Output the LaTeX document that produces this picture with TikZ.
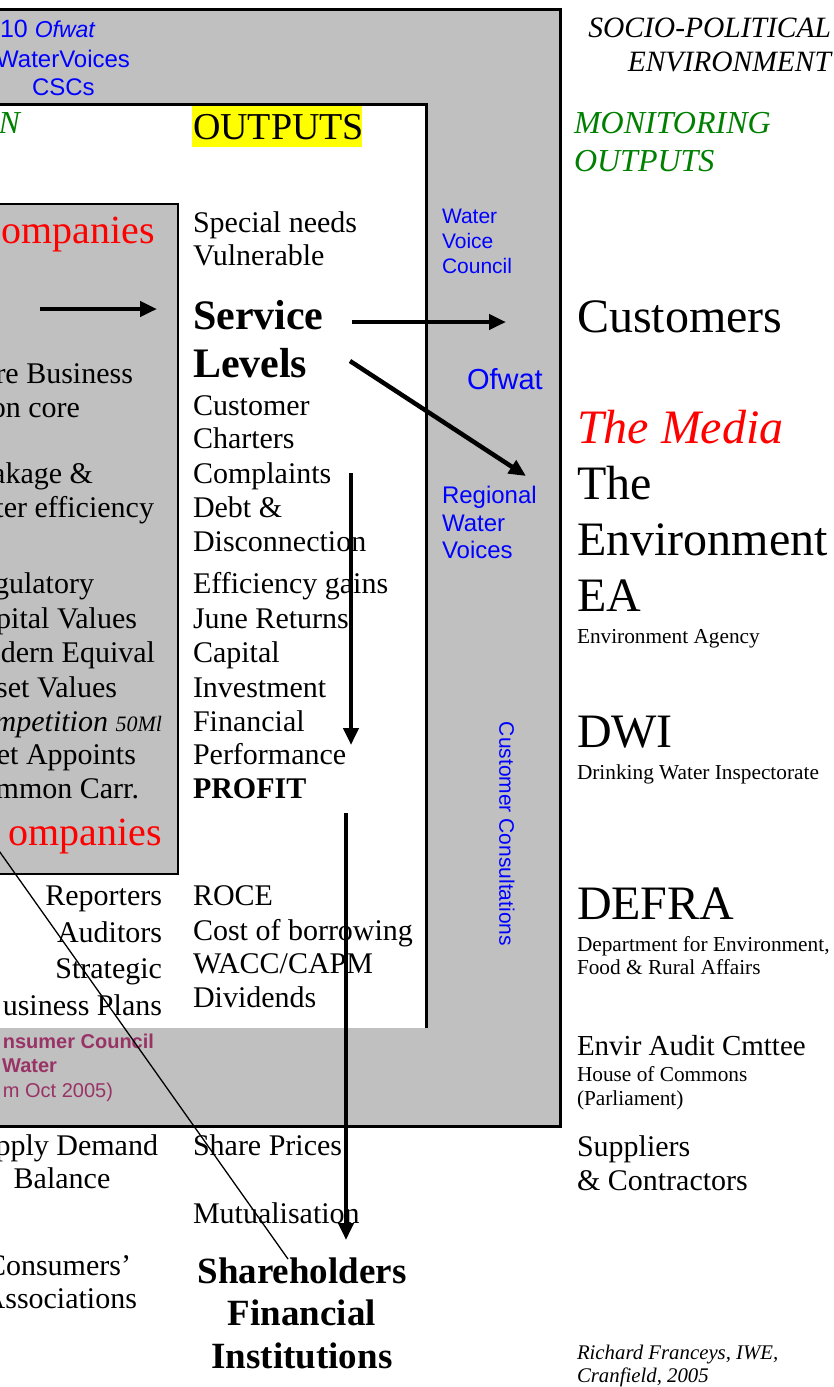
\documentclass[tikz,border=0pt]{standalone}
\usepackage{fontspec}
\setmainfont{Liberation Serif}
\setsansfont{Liberation Sans}
\usetikzlibrary{arrows.meta}
\definecolor{panel}{RGB}{192,192,192}
\definecolor{voice}{RGB}{0,0,255}
\definecolor{watch}{RGB}{0,128,0}
\definecolor{council}{RGB}{153,51,102}
\definecolor{hilite}{RGB}{255,255,0}

\begin{document}
\begin{tikzpicture}[x=1pt,y=-1pt,
  every node/.style={inner sep=0pt,outer sep=0pt},
  lw/.style={anchor=base west},
  le/.style={anchor=base east},
  txt/.style={font=\fontsize{30}{34}\selectfont},
  big/.style={font=\fontsize{48}{55}\selectfont},
  note/.style={font=\fontsize{21.3}{23}\selectfont},
  vtxt/.style={text=voice,font=\sffamily\fontsize{21}{25}\selectfont},
  ctxt/.style={text=council,font=\sffamily\bfseries\fontsize{20}{24}\selectfont},
  fat/.style={line width=4.5pt,-{Triangle[length=17pt,width=15pt]}}]
  \useasboundingbox (0,0) rectangle (833,1387);
  \clip (0,0) rectangle (833,1387);

  % boxes
  \draw[line width=3pt,fill=panel] (-20,9) rectangle (560,1126);
  \draw[line width=3pt,fill=white] (-20,104) rectangle (426,1080);
  \fill[panel] (-20,1028) rectangle (428,1124.5);
  \draw[line width=2.5pt,fill=panel] (-20,204) rectangle (178,874);
  \fill[hilite] (192,105.5) rectangle (362,147);

  % top left
  \node[lw,text=voice,font=\sffamily\fontsize{25}{29}\selectfont] (ofwat10) at (0,37) {10 {\fontsize{23}{27}\selectfont\itshape Ofwat}};
  \node[le,text=voice,font=\sffamily\fontsize{24}{28}\selectfont] (wv) at (130,67) {WaterVoices};
  \node[lw,text=voice,font=\sffamily\fontsize{24}{28}\selectfont] (cscs) at (32,95) {CSCs};
  \node[le,text=watch,font=\itshape\fontsize{32}{36}\selectfont] (regn) at (20,133) {N};
  \node[lw,font=\fontsize{38}{42}\selectfont] (outputs) at (193,139) {OUTPUTS};

  % companies box
  \node[le,text=red,font=\fontsize{40}{44}\selectfont] (comp1) at (155,243) {ompanies};
  \node[le,txt] (core1) at (133,383) {re Business};
  \node[le,txt] (core2) at (80,417) {on core};
  \node[le,txt] (leak1) at (93,483) {akage \&};
  \node[le,txt] (leak2) at (154,517) {ter efficiency};
  \node[le,txt] (rcv1) at (94,593) {gulatory};
  \node[le,txt] (rcv2) at (137,628) {pital Values};
  \node[le,txt] (rcv3) at (155,662) {odern Equival};
  \node[le,txt] (rcv4) at (117,697) {set Values};
  \node[le,txt] (compet) at (162,731) {\itshape mpetition {\fontsize{22}{26}\selectfont 50Ml}};
  \node[le,txt] (inset) at (136,764) {et Appoints};
  \node[le,txt] (carr) at (139,798) {mmon Carr.};
  \node[le,text=red,font=\fontsize{40}{44}\selectfont] (comp2) at (162,845) {ompanies};

  % below companies
  \node[le,txt] (rep) at (162,905) {Reporters};
  \node[le,txt] (aud) at (162,942) {Auditors};
  \node[le,txt] (strat) at (162,978) {Strategic};
  \node[le,txt] (bplan) at (162,1015) {usiness Plans};
  \node[le,ctxt] (ccw1) at (154,1048) {nsumer Council};
  \node[le,ctxt] (ccw2) at (57,1072) {Water};
  \node[le,ctxt,font=\sffamily\mdseries\fontsize{20}{24}\selectfont] (ccw3) at (113,1097) {m Oct 2005)};
  \node[le,txt] (sdb1) at (158,1155) {pply Demand};
  \node[anchor=base,txt] (sdb2) at (62,1188) {Balance};
  \node[le,txt] (cons1) at (131,1275) {Consumers’};
  \node[le,txt] (cons2) at (137,1308) {Associations};

  % outputs column
  \node[lw,txt] (spec) at (193,232) {Special needs};
  \node[lw,txt] (vuln) at (193,265) {Vulnerable};
  \node[lw,font=\bfseries\fontsize{42}{48}\selectfont] (serv) at (193,329) {Service};
  \node[lw,font=\bfseries\fontsize{42}{48}\selectfont] (levels) at (193,377) {Levels};
  \node[lw,txt] (cust) at (193,415) {Customer};
  \node[lw,txt] (chart) at (193,448) {Charters};
  \node[lw,txt] (compl) at (193,483) {Complaints};
  \node[lw,txt] (debt) at (193,517) {Debt \&};
  \node[lw,txt] (disc) at (193,551) {Disconnection};
  \node[lw,txt] (effic) at (193,593) {Efficiency gains};
  \node[lw,txt] (june) at (193,628) {June Returns};
  \node[lw,txt] (capit) at (193,662) {Capital};
  \node[lw,txt] (invest) at (193,697) {Investment};
  \node[lw,txt] (finan) at (193,731) {Financial};
  \node[lw,txt] (perf) at (193,764) {Performance};
  \node[lw,txt,font=\bfseries\fontsize{30}{34}\selectfont] (profit) at (193,798) {PROFIT};
  \node[lw,txt] (roce) at (193,905) {ROCE};
  \node[lw,txt] (borrow) at (193,940) {Cost of borrowing};
  \node[lw,txt] (wacc) at (193,973) {WACC/CAPM};
  \node[lw,txt] (divid) at (193,1007) {Dividends};
  \node[lw,txt] (share) at (193,1155) {Share Prices};
  \node[lw,txt] (mutual) at (193,1223) {Mutualisation};
  \node[anchor=base,font=\bfseries\fontsize{37}{43}\selectfont] (sh1) at (302,1283) {Shareholders};
  \node[anchor=base,font=\bfseries\fontsize{37}{43}\selectfont] (sh2) at (302,1325) {Financial};
  \node[anchor=base,font=\bfseries\fontsize{37}{43}\selectfont] (sh3) at (302,1368) {Institutions};

  % monitors in the grey band
  \node[lw,vtxt] (wvc1) at (442,223) {Water};
  \node[lw,vtxt] (wvc2) at (442,248) {Voice};
  \node[lw,vtxt] (wvc3) at (442,273) {Council};
  \node[lw,vtxt,font=\sffamily\fontsize{29}{33}\selectfont] (ofwat) at (467,389) {Ofwat};
  \node[lw,vtxt,font=\sffamily\fontsize{24}{28}\selectfont] (rwv1) at (442,503) {Regional};
  \node[lw,vtxt,font=\sffamily\fontsize{24}{28}\selectfont] (rwv2) at (442,531) {Water};
  \node[lw,vtxt,font=\sffamily\fontsize{24}{28}\selectfont] (rwv3) at (442,558) {Voices};
  \node[vtxt,rotate=-90] (consult) at (507,834) {Customer Consultations};

  % socio-political column
  \node[le,font=\itshape\fontsize{29.5}{33}\selectfont] (socio1) at (831,37) {SOCIO-POLITICAL};
  \node[le,font=\itshape\fontsize{29.5}{33}\selectfont] (socio2) at (831,71) {ENVIRONMENT};
  \node[lw,text=watch,font=\itshape\fontsize{32}{36}\selectfont] (mon1) at (574,133) {MONITORING};
  \node[lw,text=watch,font=\itshape\fontsize{32}{36}\selectfont] (mon2) at (574,171) {OUTPUTS};
  \node[lw,big] (custs) at (577,332) {Customers};
  \node[lw,big,text=red,font=\itshape\fontsize{48}{55}\selectfont] (media) at (577,443) {The Media};
  \node[lw,big] (env1) at (577,499) {The};
  \node[lw,big] (env2) at (577,555) {Environment};
  \node[lw,big] (ea) at (577,611) {EA};
  \node[lw,note] (ea2) at (577,643) {Environment Agency};
  \node[lw,big] (dwi) at (577,747) {DWI};
  \node[lw,note] (dwi2) at (577,779) {Drinking Water Inspectorate};
  \node[lw,big] (defra) at (577,919) {DEFRA};
  \node[lw,note] (defra2) at (577,951) {Department for Environment,};
  \node[lw,note] (defra3) at (577,974) {Food \& Rural Affairs};
  \node[lw,font=\fontsize{29}{33}\selectfont] (eac) at (577,1055) {Envir Audit Cmttee};
  \node[lw,note] (eac2) at (577,1081) {House of Commons};
  \node[lw,note] (eac3) at (577,1105) {(Parliament)};
  \node[lw,txt] (supp1) at (577,1156) {Suppliers};
  \node[lw,txt] (supp2) at (577,1190) {\& Contractors};
  \node[lw,font=\itshape\fontsize{20.8}{23}\selectfont] (credit1) at (577,1359) {Richard Franceys, IWE,};
  \node[lw,font=\itshape\fontsize{20.8}{23}\selectfont] (credit2) at (577,1382) {Cranfield, 2005};

  % connectors
  \coordinate (compout) at (40,309);
  \coordinate (compin) at (157,309);
  \coordinate (servout) at (352,322);
  \coordinate (custin) at (506,322);
  \coordinate (levout) at (350,361);
  \coordinate (rwvin) at (526,476);
  \coordinate (complout) at (351,473);
  \coordinate (perfin) at (351,745);
  \coordinate (profout) at (346,813);
  \coordinate (shin) at (346,1240);
  \coordinate (tiefrom) at (-3,848);
  \coordinate (tieto) at (288,1259);

  \draw[fat] (compout) -- (compin);
  \draw[fat] (servout) -- (custin);
  \draw[fat] (levout) -- (rwvin);
  \draw[fat] (complout) -- (perfin);
  \draw[fat] (profout) -- (shin);
  \draw[line width=1.3pt] (tiefrom) -- (tieto);
\end{tikzpicture}
\end{document}
